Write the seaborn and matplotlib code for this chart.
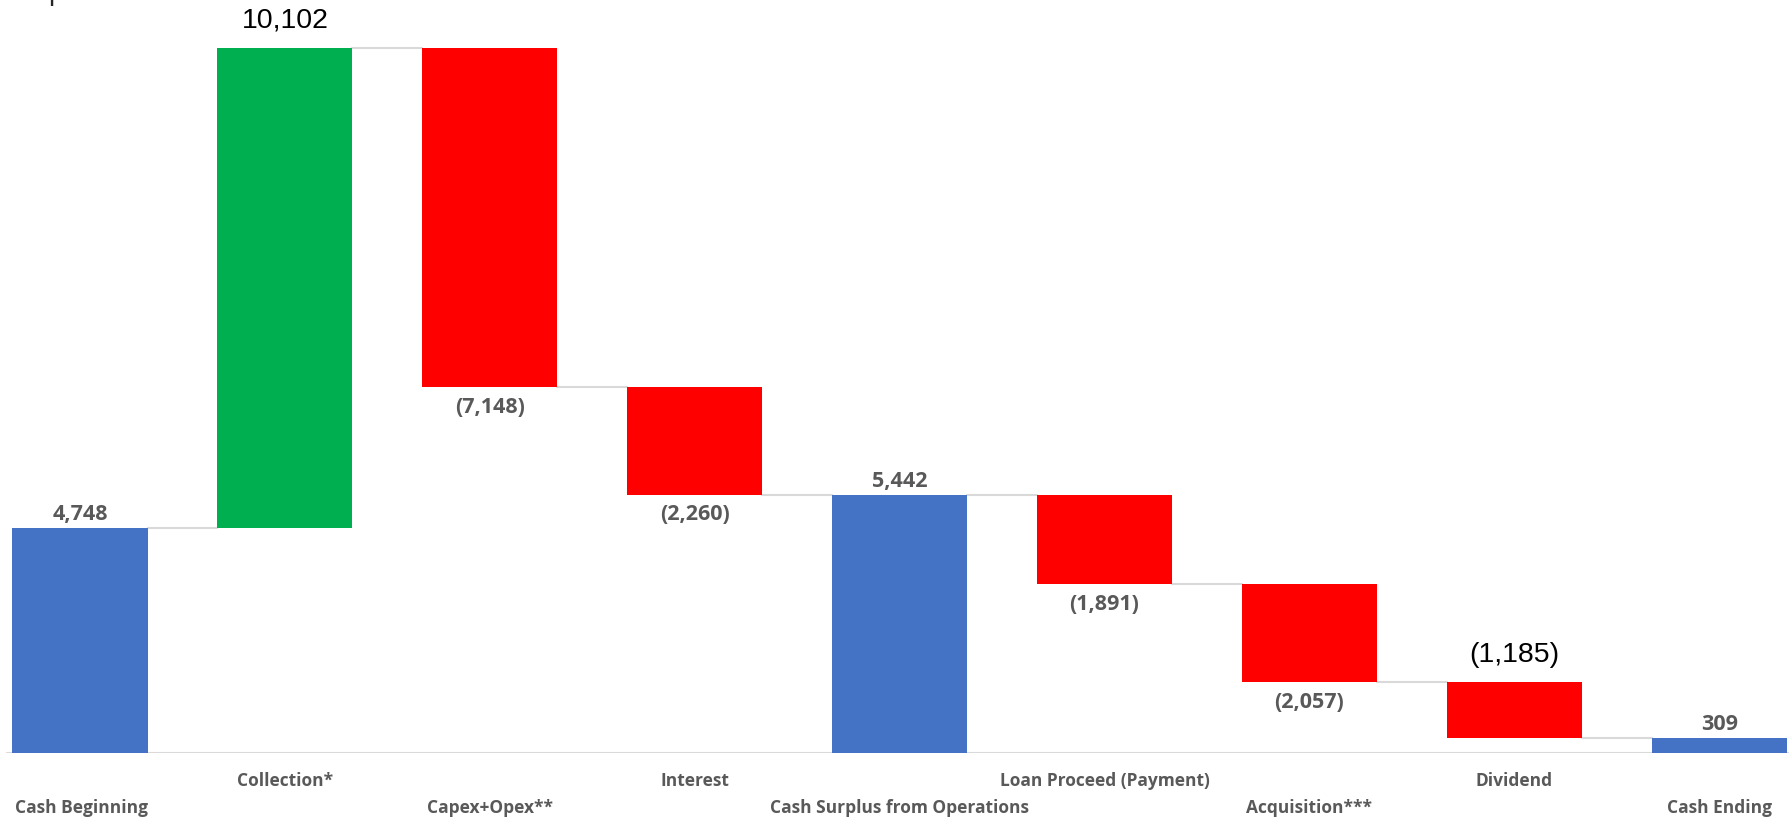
import matplotlib
matplotlib.use("Agg")
import matplotlib.pyplot as plt
import seaborn as sns
import pandas as pd

# Waterfall data
categories = ["Cash Beginning", "Collection*", "Capex+Opex**", "Interest",
              "Cash Surplus from Operations", "Loan Proceed (Payment)",
              "Acquisition***", "Dividend", "Cash Ending"]
values = [4748, 10102, -7148, -2260, 5442, -1891, -2057, -1185, 309]
is_total = [True, False, False, False, True, False, False, False, True]

BLUE, GREEN, RED = "#4472C4", "#00B050", "#FF0000"
GREY_TXT = "#595959"
LINE = "#D9D9D9"
BIG_LABELS = {"Collection*", "Dividend"}  # these two labels use the plain black font

# running levels -> bar bottoms/tops
bottoms, tops = [], []
level = 0
for v, tot in zip(values, is_total):
    if tot:
        bottoms.append(0)
        level = v
    else:
        bottoms.append(level)
        level += v
    tops.append(level)
heights = [t - b for t, b in zip(tops, bottoms)]
colors = [BLUE if tot else (GREEN if v > 0 else RED) for v, tot in zip(values, is_total)]
df = pd.DataFrame({"step": categories, "height": heights, "bottom": bottoms})


def fmt(v):
    return f"{v:,}" if v >= 0 else f"({-v:,})"


sns.set_style("white")
plt.rcParams["font.family"] = ["Open Sans", "DejaVu Sans"]

fig = plt.figure(figsize=(17.9, 8.19), dpi=100)
ax = fig.add_axes([0, 66 / 819, 1, 753 / 819])
bw = 0.66
sns.barplot(data=df, x="step", y="height", order=categories, bottom=df["bottom"].values,
            width=bw, color=BLUE, saturation=1, errorbar=None, linewidth=0, ax=ax)
for p, c in zip(ax.patches, colors):
    p.set_facecolor(c)

# connector lines between bars
for i in range(len(values) - 1):
    ax.plot([i + bw / 2, i + 1 - bw / 2], [tops[i], tops[i]], color=LINE, lw=1.5, zorder=0.5)
ax.axhline(0, xmin=7 / 1790, color=LINE, lw=1.5, zorder=0.5)

# value labels
for i, (cat, v, b, h) in enumerate(zip(categories, values, bottoms, heights)):
    upper, lower = max(b, b + h), min(b, b + h)
    if cat in BIG_LABELS:
        ax.annotate(fmt(v), (i, upper), xytext=(0, 19.5), textcoords="offset points",
                    ha="center", va="center", fontsize=20.5, color="black",
                    family=["Liberation Sans", "DejaVu Sans"])
    elif v >= 0:
        ax.annotate(fmt(v), (i, upper), xytext=(0, 9.8), textcoords="offset points",
                    ha="center", va="center", fontsize=15.5, fontweight="bold", color=GREY_TXT)
    else:
        ax.annotate(fmt(v), (i, lower), xytext=(0, -14.4), textcoords="offset points",
                    ha="center", va="center", fontsize=15.5, fontweight="bold", color=GREY_TXT)

# staggered category labels (Excel style)
trans = ax.get_xaxis_transform()
for i, cat in enumerate(categories):
    y = -28 / 753 if i % 2 else -55 / 753
    if i == 0:
        ax.text(-bw / 2 + 0.015, y, cat, transform=trans, ha="left", va="center",
                fontsize=12.5, fontweight="bold", color=GREY_TXT)
    else:
        ax.text(i, y, cat, transform=trans, ha="center", va="center",
                fontsize=12.5, fontweight="bold", color=GREY_TXT)

ax.set_xticks([])
ax.set_yticks([])
ax.set_xlabel("")
ax.set_ylabel("")
sns.despine(ax=ax, left=True, bottom=True)
ax.set_xlim(-0.39, 8.345)
ax.set_ylim(0, 753 / 0.04747)

# clipped title remnant at the very top edge
fig.text(48 / 1790, 1.0, "p", ha="left", va="baseline", fontsize=20,
         family=["Liberation Sans", "DejaVu Sans"])

fig.savefig("out.png", dpi=100, facecolor="white")
